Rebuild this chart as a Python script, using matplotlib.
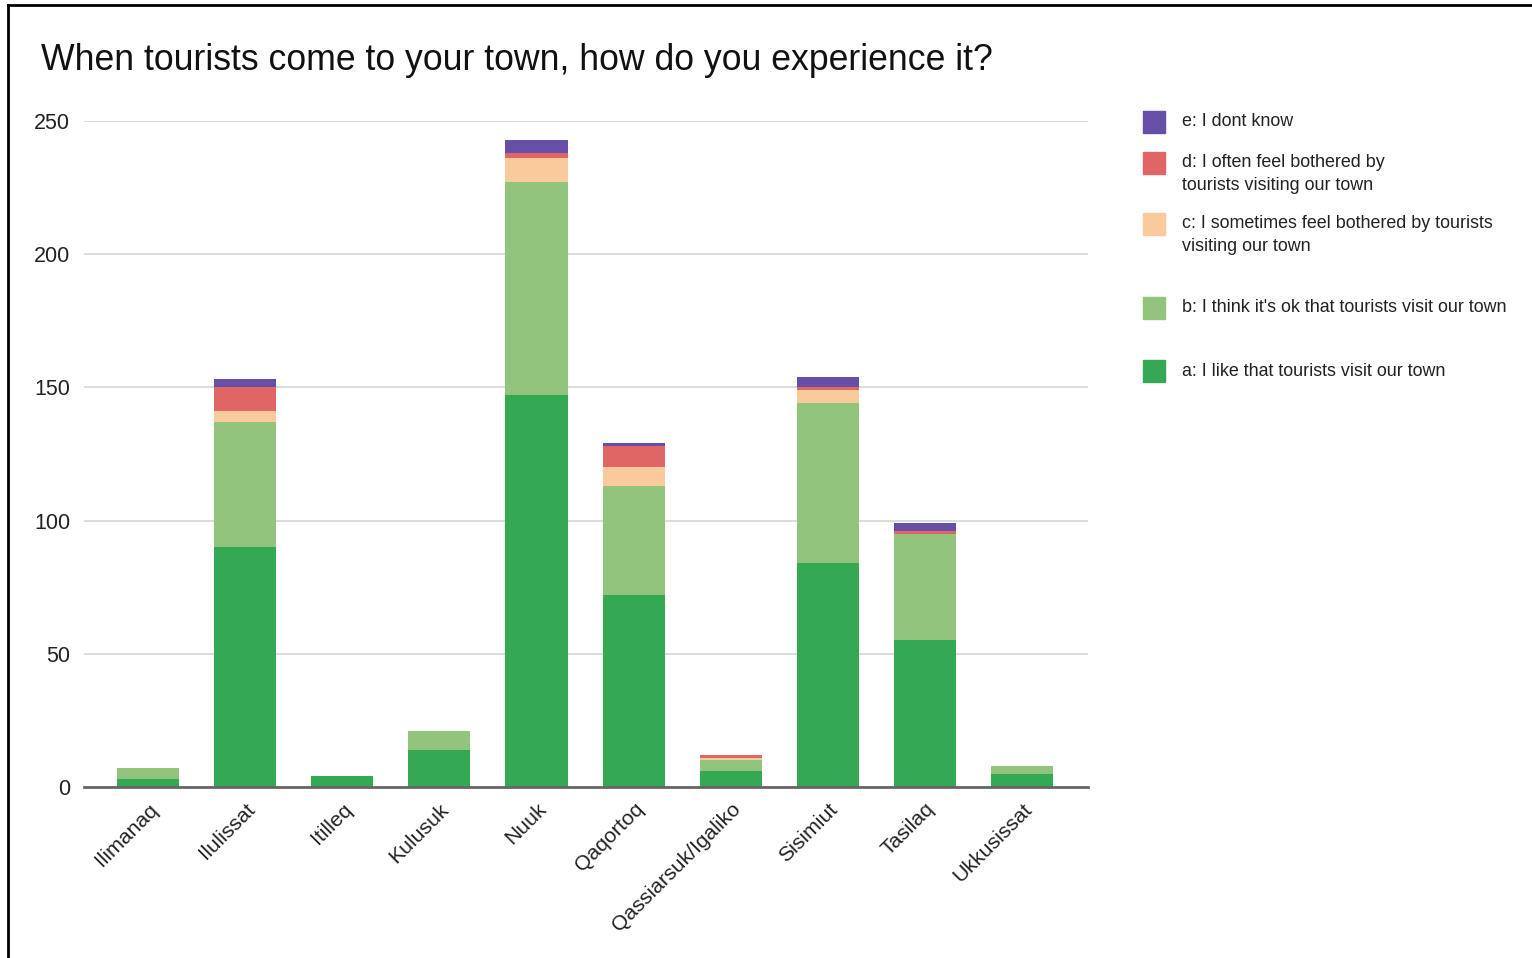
import matplotlib.pyplot as plt
from matplotlib.patches import Rectangle
import numpy as np

plt.rcParams['font.family'] = ['Liberation Sans', 'DejaVu Sans']

towns = ["Ilimanaq", "Ilulissat", "Itilleq", "Kulusuk", "Nuuk", "Qaqortoq",
         "Qassiarsuk/Igaliko", "Sisimiut", "Tasilaq", "Ukkusissat"]

# answers per town, stacked bottom to top
a_like = [3, 90, 4, 14, 147, 72, 6, 84, 55, 5]
b_ok = [4, 47, 0, 7, 80, 41, 4, 60, 40, 3]
c_sometimes = [0, 4, 0, 0, 9, 7, 1, 5, 0, 0]
d_often = [0, 9, 0, 0, 2, 8, 1, 1, 1, 0]
e_dont_know = [0, 3, 0, 0, 5, 1, 0, 4, 3, 0]

labels = ["a: I like that tourists visit our town",
          "b: I think it's ok that tourists visit our town",
          "c: I sometimes feel bothered by tourists\nvisiting our town",
          "d: I often feel bothered by\ntourists visiting our town",
          "e: I dont know"]
colors = ["#34a853", "#93c47d", "#f9cb9c", "#e06666", "#674ea7"]

series = [a_like, b_ok, c_sometimes, d_often, e_dont_know]

fig = plt.figure(figsize=(15.32, 9.58), dpi=100)
ax = fig.add_axes([84 / 1532, 1 - 787 / 958, (1088 - 84) / 1532, (787 - 121) / 958])

x = np.arange(len(towns))
bottom = np.zeros(len(towns))
for vals, col in zip(series, colors):
    ax.bar(x, vals, bottom=bottom, width=0.64, color=col, edgecolor="none", zorder=3)
    bottom += np.array(vals)

ax.set_ylim(0, 250)
ax.set_xlim(-0.66, 9.68)
ax.set_yticks([0, 50, 100, 150, 200, 250])
ax.yaxis.grid(True, color="#d9d9d9", linewidth=1.3, zorder=0)
for s in ["top", "right", "left"]:
    ax.spines[s].set_visible(False)
ax.spines["bottom"].set_color("#666666")
ax.spines["bottom"].set_linewidth(2)
ax.spines["bottom"].set_zorder(4)
ax.tick_params(axis="both", length=0, labelsize=15.5, colors="#222222")
ax.tick_params(axis="y", pad=10)
ax.set_xticks(x)
ax.set_xticklabels(towns, rotation=45, ha="right", rotation_mode="anchor", fontsize=15.3)
ax.tick_params(axis="x", pad=9)
for lbl in ax.get_xticklabels():
    lbl.set_x(lbl.get_position()[0])

fig.text(41 / 1532, 1 - 60 / 958, "When tourists come to your town, how do you experience it?",
         fontsize=25.7, color="#111111", va="center", ha="left")

# legend drawn by hand, top entry first
legend_y = [122, 174, 235, 308, 371]
for i, yy in enumerate(legend_y):
    k = len(series) - 1 - i
    fy = 1 - yy / 958
    sq = 22
    top_line = yy if "\n" not in labels[k] else yy - 11
    fig.patches.append(Rectangle((1143 / 1532, 1 - (top_line + sq / 2) / 958), sq / 1532, sq / 958,
                                 transform=fig.transFigure, color=colors[k]))
    fig.text(1182 / 1532, fy, labels[k], fontsize=12.9, color="#222222", va="center",
             ha="left", linespacing=1.45)

# frame lines on the top and left edge
fig.add_artist(plt.Line2D([8 / 1532, 1], [1 - 5 / 958, 1 - 5 / 958], color="black", linewidth=2,
                          transform=fig.transFigure))
fig.add_artist(plt.Line2D([8 / 1532, 8 / 1532], [0, 1 - 5 / 958], color="black", linewidth=2,
                          transform=fig.transFigure))

fig.savefig("out.png", dpi=100, facecolor="white")
